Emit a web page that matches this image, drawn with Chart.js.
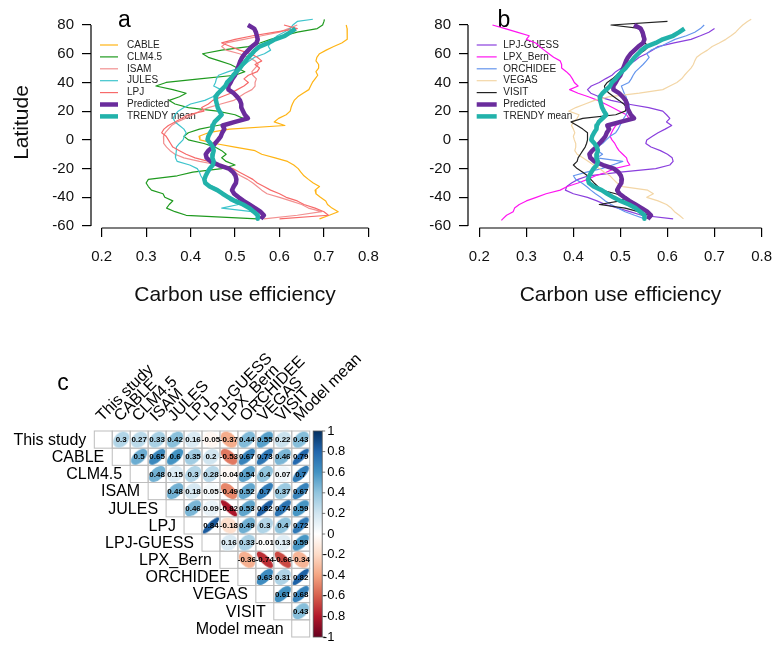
<!DOCTYPE html>
<html>
<head>
<meta charset="utf-8">
<script src="https://cdn.jsdelivr.net/npm/chart.js@4.4.1/dist/chart.umd.min.js"></script>
<style>
  html, body { margin: 0; padding: 0; background: #fff; }
  #wrap { position: relative; width: 783px; height: 647px; overflow: hidden; background: #fff; }
  #wrap canvas { position: absolute; }
</style>
</head>
<body>
<div id="wrap">
  <canvas id="chartA" width="390" height="310" style="left:0;top:0;width:390px;height:310px"></canvas>
  <canvas id="chartB" width="393" height="310" style="left:390px;top:0;width:393px;height:310px"></canvas>
  <canvas id="chartC" width="390" height="327" style="left:0;top:320px;width:390px;height:327px"></canvas>
</div>
<script>
// fonts and data
const FONT = "'Liberation Sans', Arial, Helvetica, sans-serif";

// latitude bands (shared by all profiles)
const lats = [84, 82.5, 80, 77.5, 75, 72.5, 70, 67.5, 65, 62.5, 60, 57.5, 55, 52.5, 50, 47.5, 45, 42.5, 40, 37.5,
  35, 32.5, 30, 27.5, 25, 22.5, 20, 17.5, 15, 12.5, 10, 7.5, 5, 2.5, 0, -2.5, -5, -7.5, -10, -12.5,
  -15, -17.5, -20, -22.5, -25, -27.5, -30, -32.5, -35, -37.5, -40, -42.5, -45, -47.5, -50, -52.5, -55, -56];

// carbon use efficiency per latitude, one array per model
const cueCABLE = [null, null, 0.750, 0.752, 0.753, 0.752, 0.752, 0.740, 0.722, 0.705,
  0.690, 0.684, 0.682, 0.688, 0.688, 0.682, 0.686, 0.680, 0.674, 0.670,
  0.666, 0.653, 0.641, 0.633, 0.629, 0.626, 0.624, 0.615, 0.598, 0.588,
  0.612, 0.488, 0.440, 0.419, 0.421, 0.455, 0.500, 0.545, 0.560, 0.590,
  0.618, 0.632, 0.642, 0.648, 0.655, 0.665, 0.676, 0.690, 0.680, 0.682,
  0.692, 0.704, 0.708, 0.718, 0.732, 0.712, 0.690, null];
const cueCLM45 = [0.701, 0.700, 0.697, 0.685, 0.640, 0.610, 0.580, 0.556, 0.530, 0.470,
  0.427, 0.440, 0.465, 0.490, 0.505, 0.522, 0.500, 0.420, 0.345, 0.322,
  0.360, 0.390, 0.375, 0.352, 0.365, 0.395, 0.460, 0.500, 0.518, 0.505,
  0.460, 0.420, 0.395, 0.385, 0.395, 0.430, 0.455, 0.470, 0.480, 0.470,
  0.480, 0.500, 0.470, 0.405, 0.370, 0.305, 0.300, 0.305, 0.312, 0.338,
  0.342, 0.360, 0.352, 0.346, 0.365, 0.390, 0.550, null];
const cueISAM = [null, null, 0.640, 0.620, 0.600, 0.560, 0.520, 0.480, 0.470, 0.480,
  0.510, 0.530, 0.545, 0.552, 0.545, 0.538, 0.540, 0.548, 0.545, 0.545,
  0.538, 0.522, 0.510, 0.497, 0.468, 0.440, 0.420, 0.405, 0.388, 0.370,
  0.357, 0.350, 0.343, 0.339, 0.339, 0.340, 0.346, 0.354, 0.365, 0.385,
  0.420, 0.463, 0.485, 0.500, 0.512, 0.528, 0.540, 0.550, 0.560, 0.572,
  0.600, 0.625, 0.650, 0.665, 0.695, 0.640, 0.565, null];
const cueJULES = [0.675, 0.640, 0.630, 0.624, 0.610, 0.595, 0.587, 0.578, 0.575, 0.580,
  0.566, 0.544, 0.532, 0.522, 0.510, 0.485, 0.463, 0.458, 0.456, 0.452,
  0.468, 0.460, 0.450, 0.432, 0.400, 0.385, 0.372, 0.365, 0.361, 0.365,
  0.375, 0.385, 0.390, 0.386, 0.383, 0.375, 0.368, 0.368, 0.367, 0.366,
  0.370, 0.398, 0.415, 0.420, 0.423, 0.428, 0.434, 0.450, 0.465, 0.472,
  0.480, 0.490, 0.508, 0.470, 0.538, 0.551, 0.558, null];
const cueLPJ = [null, null, 0.610, 0.640, 0.590, 0.540, 0.500, 0.470, 0.490, 0.510,
  0.535, 0.550, 0.560, 0.545, 0.555, 0.550, 0.530, 0.520, 0.530, 0.520,
  0.505, 0.490, 0.470, 0.450, 0.440, 0.425, 0.430, 0.395, 0.380, 0.365,
  0.350, 0.340, 0.335, 0.345, 0.350, 0.355, 0.360, 0.375, 0.390, 0.410,
  0.440, 0.470, 0.495, 0.510, 0.525, 0.540, 0.550, 0.565, 0.580, 0.600,
  0.615, 0.640, 0.655, 0.680, 0.700, 0.710, 0.600, null];
const cuePredicted = [null, null, 0.529, 0.543, 0.547, 0.549, 0.551, 0.548, 0.538, 0.530,
  0.522, 0.516, 0.512, 0.509, 0.506, 0.503, 0.500, 0.494, 0.490, 0.485,
  0.485, 0.497, 0.505, 0.511, 0.514, 0.514, 0.518, 0.522, 0.529, 0.500,
  0.472, 0.476, 0.471, 0.468, 0.462, 0.455, 0.449, 0.440, 0.434, 0.436,
  0.445, 0.463, 0.486, 0.496, 0.501, 0.503, 0.502, 0.497, 0.493, 0.498,
  0.508, 0.519, 0.532, 0.545, 0.557, 0.565, 0.558, null];
const cueTrendyMean = [null, null, null, 0.636, 0.625, 0.612, 0.590, 0.575, 0.555, 0.545,
  0.538, 0.530, 0.524, 0.517, 0.511, 0.503, 0.496, 0.490, 0.482, 0.478,
  0.470, 0.462, 0.456, 0.457, 0.459, 0.461, 0.465, 0.470, 0.462, 0.454,
  0.450, 0.449, 0.444, 0.440, 0.438, 0.445, 0.450, 0.452, 0.450, 0.449,
  0.452, 0.450, 0.443, 0.438, 0.434, 0.431, 0.433, 0.443, 0.460, 0.472,
  0.485, 0.500, 0.518, 0.532, 0.542, 0.551, 0.551, null];
const cueLPJGUESS = [null, null, null, 0.700, 0.688, 0.670, 0.650, 0.614, 0.580, 0.568,
  0.555, 0.540, 0.530, 0.517, 0.502, 0.490, 0.482, 0.468, 0.455, 0.438,
  0.430, 0.437, 0.455, 0.480, 0.515, 0.560, 0.590, 0.598, 0.605, 0.598,
  0.609, 0.595, 0.580, 0.568, 0.556, 0.554, 0.565, 0.585, 0.600, 0.610,
  0.612, 0.605, 0.575, 0.500, 0.432, 0.410, 0.396, 0.386, 0.383, 0.400,
  0.430, 0.450, 0.468, 0.495, 0.520, 0.545, 0.612, null];
const cueLPXBern = [null, null, 0.228, 0.255, 0.280, 0.306, 0.300, 0.320, 0.328, 0.338,
  0.348, 0.358, 0.372, 0.375, 0.375, 0.385, 0.393, 0.398, 0.402, 0.410,
  0.392, 0.410, 0.432, 0.452, 0.468, 0.483, 0.498, 0.513, 0.518, 0.505,
  0.490, 0.485, 0.481, 0.478, 0.482, 0.488, 0.492, 0.497, 0.505, 0.513,
  0.515, 0.520, 0.487, 0.470, 0.447, 0.430, 0.410, 0.387, 0.372, 0.342,
  0.321, 0.300, 0.285, 0.275, 0.272, 0.258, 0.250, 0.247];
const cueORCHIDEE = [null, null, 0.678, 0.670, 0.658, 0.640, 0.616, 0.600, 0.585, 0.565,
  0.556, 0.561, 0.555, 0.548, 0.540, 0.532, 0.527, 0.523, 0.518, 0.502,
  0.505, 0.508, 0.512, 0.514, 0.518, 0.519, 0.515, 0.512, 0.507, 0.503,
  0.499, 0.495, 0.490, 0.478, 0.470, 0.462, 0.450, 0.452, 0.462, 0.450,
  0.505, 0.483, 0.460, 0.428, 0.400, 0.405, 0.418, 0.428, 0.437, 0.447,
  0.458, 0.468, 0.480, 0.495, 0.510, 0.530, 0.552, null];
const cueVEGAS = [0.778, 0.770, 0.760, 0.752, 0.745, 0.735, 0.724, 0.710, 0.695, 0.685,
  0.672, 0.662, 0.658, 0.655, 0.650, 0.643, 0.636, 0.630, 0.620, 0.605,
  0.590, 0.540, 0.475, 0.445, 0.425, 0.405, 0.390, 0.412, 0.408, 0.400,
  0.396, 0.400, 0.403, 0.400, 0.402, 0.405, 0.405, 0.403, 0.408, 0.420,
  0.432, 0.443, 0.455, 0.466, 0.478, 0.485, 0.493, 0.505, 0.558, 0.570,
  0.556, 0.580, 0.598, 0.608, 0.615, 0.625, 0.634, null];
const cueVISIT = [null, 0.600, 0.480, 0.545, 0.544, 0.546, 0.548, 0.552, 0.560, 0.552,
  0.540, 0.532, 0.522, 0.515, 0.506, 0.499, 0.492, 0.483, 0.472, 0.466,
  0.468, 0.476, 0.486, 0.497, 0.507, 0.513, 0.510, 0.490, 0.420, 0.395,
  0.408, 0.420, 0.430, 0.430, 0.430, 0.428, 0.425, 0.420, 0.415, 0.410,
  0.408, 0.400, 0.408, 0.420, 0.430, 0.437, 0.444, 0.452, 0.460, 0.490,
  0.513, 0.500, 0.455, 0.510, 0.538, 0.561, 0.556, null];

const xTicks = [0.2, 0.3, 0.4, 0.5, 0.6, 0.7, 0.8];
const yTicks = [-60, -40, -20, 0, 20, 40, 60, 80];

// correlation matrix (upper triangle, row by row)
const corrLabels = ['This study', 'CABLE', 'CLM4.5', 'ISAM', 'JULES', 'LPJ', 'LPJ-GUESS',
  'LPX_Bern', 'ORCHIDEE', 'VEGAS', 'VISIT', 'Model mean'];
const corrRows = [
  [0.3, 0.27, 0.33, 0.42, 0.16, -0.05, -0.37, 0.44, 0.55, 0.22, 0.43],
  [0.5, 0.65, 0.6, 0.35, 0.2, -0.53, 0.67, 0.73, 0.46, 0.79],
  [0.48, 0.15, 0.3, 0.28, -0.04, 0.54, 0.4, 0.07, 0.7],
  [0.48, 0.18, 0.05, -0.49, 0.52, 0.7, 0.37, 0.67],
  [0.46, 0.09, -0.82, 0.53, 0.82, 0.74, 0.59],
  [0.84, -0.18, 0.49, 0.3, 0.4, 0.72],
  [0.16, 0.33, -0.01, 0.13, 0.59],
  [-0.36, -0.74, -0.66, -0.34],
  [0.63, 0.31, 0.82],
  [0.61, 0.68],
  [0.43]
];
const colorTicks = [1, 0.8, 0.6, 0.4, 0.2, 0, -0.2, -0.4, -0.6, -0.8, -1];

// series styling
const seriesA = [
  { label: 'CABLE', values: cueCABLE, color: '#FFB414', width: 1.2 },
  { label: 'CLM4.5', values: cueCLM45, color: '#1F9A1F', width: 1.2 },
  { label: 'ISAM', values: cueISAM, color: '#F29090', width: 1.2 },
  { label: 'JULES', values: cueJULES, color: '#3EC4CC', width: 1.2 },
  { label: 'LPJ', values: cueLPJ, color: '#F76A6A', width: 1.2 },
  { label: 'Predicted', values: cuePredicted, color: '#6A2C9C', width: 4.5 },
  { label: 'TRENDY mean', values: cueTrendyMean, color: '#22B2AA', width: 4.5 }
];
const seriesB = [
  { label: 'LPJ-GUESS', values: cueLPJGUESS, color: '#8A3FDD', width: 1.2 },
  { label: 'LPX_Bern', values: cueLPXBern, color: '#FF14F0', width: 1.2 },
  { label: 'ORCHIDEE', values: cueORCHIDEE, color: '#6495ED', width: 1.2 },
  { label: 'VEGAS', values: cueVEGAS, color: '#F3D6A6', width: 1.2 },
  { label: 'VISIT', values: cueVISIT, color: '#222222', width: 1.2 },
  { label: 'Predicted', values: cuePredicted, color: '#6A2C9C', width: 4.5 },
  { label: 'TRENDY mean', values: cueTrendyMean, color: '#22B2AA', width: 4.5 }
];

// R-style detached axis lines
const rAxes = {
  id: 'rAxes',
  afterDraw(chart) {
    const { ctx, chartArea, scales: { x, y } } = chart;
    ctx.save();
    ctx.strokeStyle = '#000';
    ctx.lineWidth = 1.2;
    ctx.beginPath();
    ctx.moveTo(chartArea.left, y.getPixelForValue(yTicks[0]));
    ctx.lineTo(chartArea.left, y.getPixelForValue(yTicks[yTicks.length - 1]));
    ctx.moveTo(x.getPixelForValue(xTicks[0]), chartArea.bottom);
    ctx.lineTo(x.getPixelForValue(xTicks[xTicks.length - 1]), chartArea.bottom);
    ctx.stroke();
    ctx.restore();
  }
};

// legend without box + panel letter, drawn under the lines
const rLegend = {
  id: 'rLegend',
  beforeDatasetsDraw(chart, args, o) {
    const ctx = chart.ctx;
    ctx.save();
    chart.data.datasets.forEach((ds, i) => {
      const y = o.y0 + i * o.dy;
      ctx.strokeStyle = ds.borderColor;
      ctx.lineWidth = ds.borderWidth;
      ctx.beginPath();
      ctx.moveTo(o.x1, y);
      ctx.lineTo(o.x2, y);
      ctx.stroke();
      ctx.fillStyle = '#222';
      ctx.font = '10px ' + FONT;
      ctx.textAlign = 'left';
      ctx.textBaseline = 'middle';
      ctx.fillText(ds.label, o.tx, y);
    });
    ctx.fillStyle = '#000';
    ctx.font = '23px ' + FONT;
    ctx.textAlign = 'center';
    ctx.textBaseline = 'alphabetic';
    ctx.fillText(o.tag, o.tagX, o.tagY);
    ctx.restore();
  }
};

function profileChart(id, series, axisWidth, padRight, showTitle, legend) {
  return new Chart(document.getElementById(id), {
    type: 'scatter',
    data: {
      datasets: series.map((s, i) => ({
        label: s.label,
        data: lats.map((lat, k) => ({ x: s.values[k], y: lat })).filter(p => p.x !== null),
        showLine: true,
        borderColor: s.color,
        backgroundColor: s.color,
        borderWidth: s.width,
        borderJoinStyle: 'round',
        pointRadius: 0,
        tension: 0,
        clip: false,
        order: series.length - i
      }))
    },
    options: {
      responsive: false,
      devicePixelRatio: 1,
      animation: false,
      events: [],
      layout: { padding: { left: 0, right: padRight, top: 11.8, bottom: 0 } },
      plugins: {
        legend: { display: false },
        tooltip: { enabled: false },
        rLegend: legend
      },
      scales: {
        x: {
          type: 'linear',
          min: 0.176,
          max: 0.824,
          afterBuildTicks: s => { s.ticks = xTicks.map(v => ({ value: v })); },
          afterFit: s => { s.height = 82; },
          border: { display: false },
          grid: { drawOnChartArea: false, tickLength: 9, color: '#000', lineWidth: 1.2 },
          ticks: { autoSkip: false, maxRotation: 0, padding: 11, color: '#111', font: { family: FONT, size: 15 } },
          title: {
            display: true, text: 'Carbon use efficiency', color: '#111',
            font: { family: FONT, size: 21 }, padding: { top: 0, bottom: 2.4 }
          }
        },
        y: {
          type: 'linear',
          min: -61.36,
          max: 85.57,
          afterBuildTicks: s => { s.ticks = yTicks.map(v => ({ value: v })); },
          afterFit: s => { s.width = axisWidth; },
          border: { display: false },
          grid: { drawOnChartArea: false, tickLength: 9, color: '#000', lineWidth: 1.2 },
          ticks: { autoSkip: false, padding: 8, color: '#111', font: { family: FONT, size: 15 } },
          title: {
            display: showTitle, text: 'Latitude', color: '#111',
            font: { family: FONT, size: 21 }, padding: { top: 9.4, bottom: 0 }
          }
        }
      }
    },
    plugins: [rAxes, rLegend]
  });
}

profileChart('chartA', seriesA, 91, 4, true,
  { x1: 100, x2: 118, tx: 127, y0: 45, dy: 11.9, tag: 'a', tagX: 124.5, tagY: 27 });
profileChart('chartB', seriesB, 78, 0, false,
  { x1: 86.7, x2: 106.7, tx: 113.3, y0: 45, dy: 11.9, tag: 'b', tagX: 114, tagY: 27 });

// ---- panel c: correlation matrix ----
const rdbu = ['#67001F', '#B2182B', '#D6604D', '#F4A582', '#FDDBC7', '#FFFFFF',
  '#D1E5F0', '#92C5DE', '#4393C3', '#2166AC', '#053061'];

function hexToRgb(h) {
  return [1, 3, 5].map(k => parseInt(h.slice(k, k + 2), 16));
}
function corrColor(r) {
  const t = (r + 1) / 2 * 10;
  const i = Math.min(9, Math.floor(t));
  const f = t - i;
  const a = hexToRgb(rdbu[i]), b = hexToRgb(rdbu[i + 1]);
  const c = a.map((v, k) => Math.round(v + (b[k] - v) * f));
  return 'rgb(' + c.join(',') + ')';
}

const CELL = 18;
function ellipseImage(r) {
  const c = document.createElement('canvas');
  c.width = CELL;
  c.height = CELL;
  const g = c.getContext('2d');
  const d = Math.acos(r);
  const s = 0.9 * CELL / Math.SQRT2;
  g.fillStyle = corrColor(r);
  g.beginPath();
  g.ellipse(CELL / 2, CELL / 2, Math.max(0.4, s * Math.cos(d / 2)), Math.max(0.4, s * Math.sin(d / 2)),
    -Math.PI / 4, 0, 2 * Math.PI);
  g.fill();
  return c;
}

const corrPoints = [];
corrRows.forEach((row, i) => {
  row.forEach((v, k) => corrPoints.push({ x: i + 1 + k, y: i, r: v }));
});
const corrImages = corrPoints.map(p => ellipseImage(p.r));

const corrDecor = {
  id: 'corrDecor',
  beforeDatasetsDraw(chart) {
    const { ctx, scales: { x, y } } = chart;
    const cw = x.getPixelForValue(1) - x.getPixelForValue(0);
    const ch = y.getPixelForValue(1) - y.getPixelForValue(0);
    ctx.save();
    ctx.strokeStyle = '#BDBDBD';
    ctx.lineWidth = 1;
    for (let i = 0; i < corrLabels.length; i++) {
      for (let j = i; j < corrLabels.length; j++) {
        ctx.strokeRect(x.getPixelForValue(j) - cw / 2, y.getPixelForValue(i) - ch / 2, cw, ch);
      }
    }
    ctx.restore();
  },
  afterDatasetsDraw(chart) {
    const { ctx, scales: { x, y } } = chart;
    const cw = x.getPixelForValue(1) - x.getPixelForValue(0);
    const top = y.getPixelForValue(-0.5);
    const bottom = y.getPixelForValue(corrLabels.length - 0.5);
    ctx.save();
    // coefficients
    ctx.fillStyle = '#000';
    ctx.font = 'bold 8px ' + FONT;
    ctx.textAlign = 'center';
    ctx.textBaseline = 'middle';
    corrPoints.forEach(p => {
      ctx.fillText(String(p.r), x.getPixelForValue(p.x), y.getPixelForValue(p.y) + 0.5);
    });
    // row labels
    ctx.font = '16px ' + FONT;
    ctx.textAlign = 'right';
    corrLabels.forEach((lab, i) => {
      ctx.fillText(lab, x.getPixelForValue(i) - cw / 2 - 8, y.getPixelForValue(i) + 1);
    });
    // column labels, 45 degrees
    ctx.textAlign = 'left';
    ctx.textBaseline = 'alphabetic';
    corrLabels.forEach((lab, j) => {
      ctx.save();
      ctx.translate(x.getPixelForValue(j) - 1, top - 9);
      ctx.rotate(-Math.PI / 4);
      ctx.fillText(lab, 0, 0);
      ctx.restore();
    });
    // colour bar
    const bx = x.getPixelForValue(corrLabels.length - 0.5) + 3.5;
    const bw = 9;
    const grad = ctx.createLinearGradient(0, top, 0, bottom);
    rdbu.slice().reverse().forEach((c, k) => grad.addColorStop(k / 10, c));
    ctx.fillStyle = grad;
    ctx.fillRect(bx, top, bw, bottom - top);
    ctx.strokeStyle = '#555';
    ctx.lineWidth = 0.8;
    ctx.strokeRect(bx, top, bw, bottom - top);
    ctx.font = '13px ' + FONT;
    ctx.textBaseline = 'middle';
    ctx.fillStyle = '#000';
    const minusW = ctx.measureText('-').width;
    colorTicks.forEach(v => {
      const ty = top + (1 - v) / 2 * (bottom - top);
      ctx.beginPath();
      ctx.moveTo(bx + bw, ty);
      ctx.lineTo(bx + bw + 3, ty);
      ctx.stroke();
      ctx.fillText(String(v), bx + bw + 5 - (v < 0 ? minusW : 0), ty);
    });
    // panel letter
    ctx.font = '23px ' + FONT;
    ctx.textAlign = 'center';
    ctx.fillText('c', 63, 64);
    ctx.restore();
  }
};

new Chart(document.getElementById('chartC'), {
  type: 'scatter',
  data: {
    datasets: [{
      label: 'Correlation',
      data: corrPoints.map(p => ({ x: p.x, y: p.y })),
      pointStyle: c => corrImages[c.dataIndex],
      pointRadius: 9,
      clip: false
    }]
  },
  options: {
    responsive: false,
    devicePixelRatio: 1,
    animation: false,
    events: [],
    layout: { padding: { left: 94.3, right: 80.3, top: 111, bottom: 2.3 } },
    plugins: { legend: { display: false }, tooltip: { enabled: false } },
    scales: {
      x: { type: 'linear', display: false, min: -0.5, max: corrLabels.length - 0.5 },
      y: { type: 'linear', display: false, min: -0.5, max: corrLabels.length - 0.5, reverse: true }
    }
  },
  plugins: [corrDecor]
});
</script>
</body>
</html>
